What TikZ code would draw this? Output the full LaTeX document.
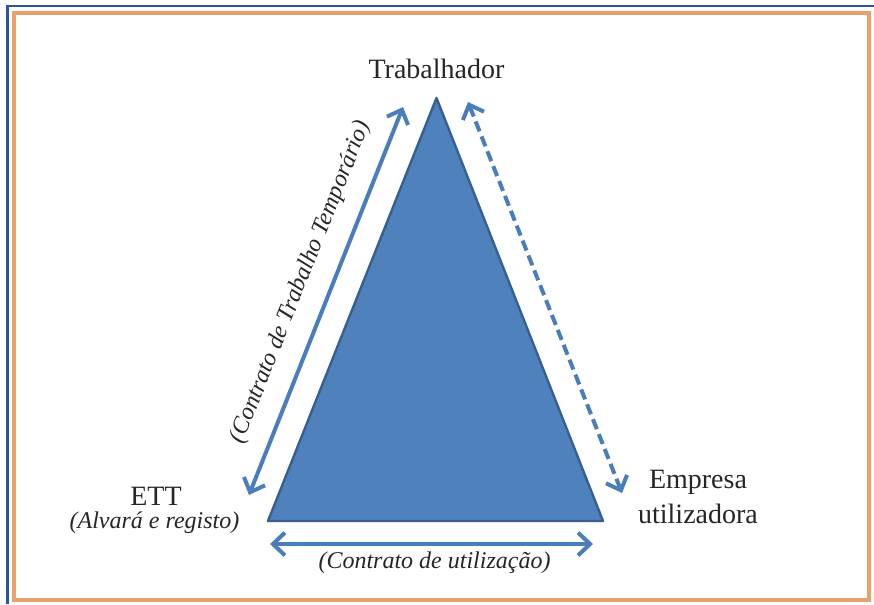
\documentclass[tikz,border=0pt]{standalone}
\usepackage{fontspec}
\setmainfont{Liberation Serif}
\usetikzlibrary{arrows.meta}
\definecolor{triblue}{HTML}{4F81BD}
\definecolor{triedge}{HTML}{36608F}
\definecolor{arrblue}{HTML}{4A7EBB}
\definecolor{frameblue}{HTML}{2B559C}
\definecolor{frameorange}{HTML}{E8A168}
\begin{document}
\begin{tikzpicture}[x=0.75pt,y=-0.75pt,
	every node/.style={inner sep=0pt,text=black!85},
	party/.style={font=\fontsize{21}{26.25}\selectfont,align=center,anchor=base},
	note/.style={font=\fontsize{18}{22}\selectfont\itshape,anchor=base},
	link/.style={draw=arrblue,line width=3pt,
		{Straight Barb[length=9pt,width=17pt]}-{Straight Barb[length=9pt,width=17pt]}}]
\useasboundingbox (0,0) rectangle (874,604);
\fill[white] (0,0) rectangle (874,604);
\draw[frameblue,line width=1.6pt] (7.5,604) -- (7.5,6) -- (874,6);
\draw[frameorange,line width=3pt] (14,13) rectangle (869,600);

\coordinate (apex) at (436.5,98);
\coordinate (ettcorner) at (268,521);
\coordinate (eucorner) at (603,521);
\filldraw[fill=triblue,draw=triedge,line width=1.8pt,line join=round]
	(apex) -- (ettcorner) -- (eucorner) -- cycle;

\node[party] (trab) at (436.5,78) {Trabalhador};
\node[party] (ett) at (156,505) {ETT};
\node[note] (alvara) at (154.5,528) {(Alvará e registo)};
\node[party] (empresa) at (698,523) {Empresa\\utilizadora};

\coordinate (ctta) at (249,495);
\coordinate (cttb) at (403,107);
\coordinate (eua) at (468,102);
\coordinate (eub) at (622,493);
\coordinate (cua) at (270,544);
\coordinate (cub) at (593,544);

\draw[link] (ctta) -- (cttb)
	node[note,pos=0.52,sloped,above=13pt,anchor=south] (ctt) {(Contrato de Trabalho Temporário)};
\draw[link,dash pattern=on 8pt off 4pt] (eua) -- (eub);
\draw[link] (cua) -- (cub);
\node[note] (cu) at (434.5,568) {(Contrato de utilização)};
\end{tikzpicture}
\end{document}
